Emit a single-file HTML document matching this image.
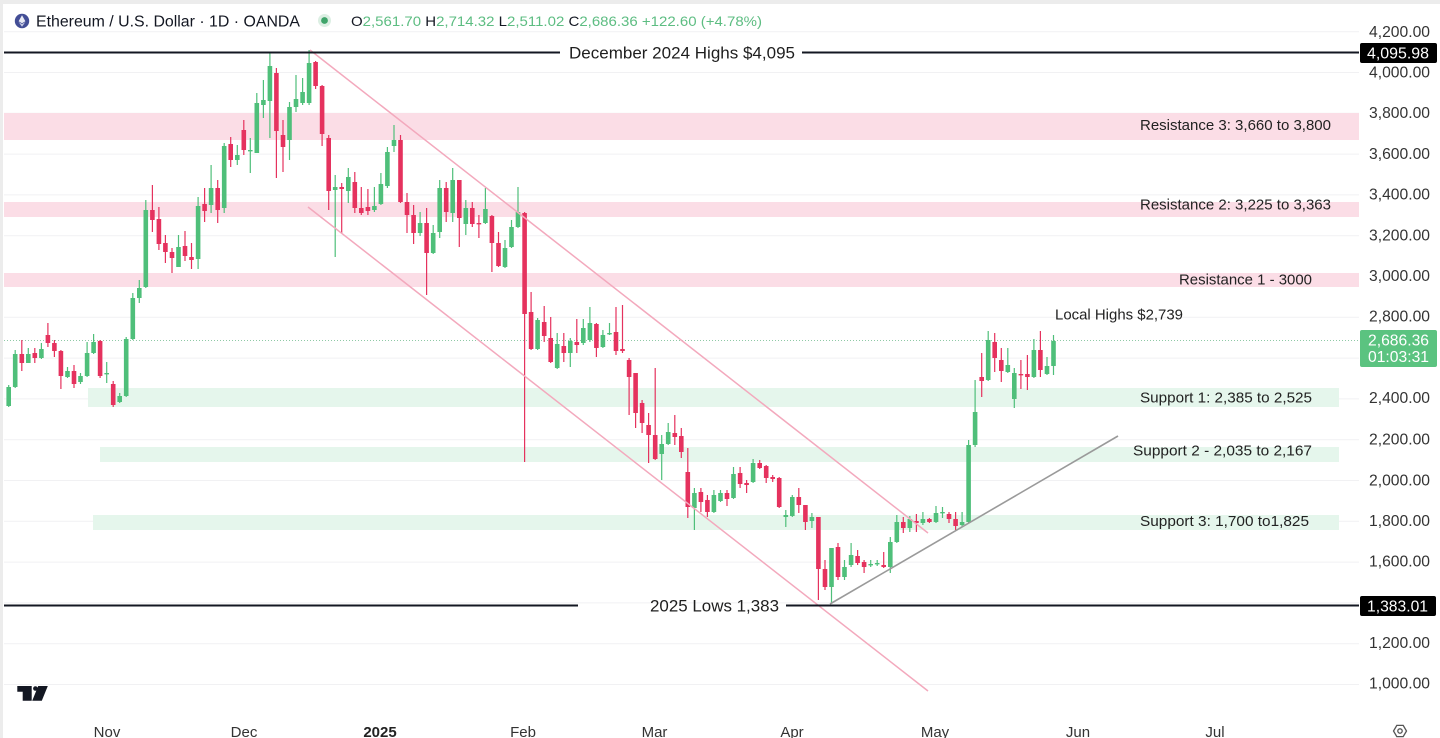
<!DOCTYPE html>
<html>
<head>
<meta charset="utf-8">
<style>
html,body{margin:0;padding:0;background:#fff;}
svg{display:block;}
</style>
</head>
<body>
<svg width="1440" height="738" viewBox="0 0 1440 738" xmlns="http://www.w3.org/2000/svg" font-family="'Liberation Sans', Arial, sans-serif">
<rect width="1440" height="738" fill="#ffffff"/>
<rect x="0" y="0" width="1440" height="4" fill="#ececec"/>
<rect x="0" y="0" width="3" height="738" fill="#ececec"/>

<!-- grid -->
<path d="M4 31.7H1359M4 72.5H1359M4 113.3H1359M4 154.1H1359M4 194.9H1359M4 235.7H1359M4 276.5H1359M4 317.3H1359M4 358.1H1359M4 398.9H1359M4 439.7H1359M4 480.5H1359M4 521.3H1359M4 562.1H1359M4 602.9H1359M4 643.7H1359M4 684.5H1359" stroke="#f1f1f3" stroke-width="1" fill="none"/>

<!-- zones -->
<rect x="4" y="113" width="1355" height="27" fill="#fbdde6"/>
<rect x="4" y="202" width="1355" height="15" fill="#fbdde6"/>
<rect x="4" y="273" width="1355" height="14" fill="#fbdde6"/>
<rect x="88" y="388" width="1251" height="19" fill="#e5f6ec"/>
<rect x="100" y="447" width="1239" height="15" fill="#e5f6ec"/>
<rect x="93" y="515" width="1246" height="15" fill="#e5f6ec"/>

<!-- current price dotted line -->
<path d="M4 340.5H1359" stroke="#8fc9a6" stroke-width="1" stroke-dasharray="1 2" fill="none"/>

<!-- green wicks -->
<path fill="none" stroke="#4fbf7a" stroke-width="1.2" d="M8.7 385V407M15.2 350V388M28.3 348V363M41.4 343V359M67.5 367V378M80.5 373V384M87.1 342V377M93.6 334V354M106.7 362V383M119.7 393V403M126.2 337V397M132.8 293V340M139.3 280V303M145.8 200V288M178.5 235V267M198.1 197V269M211.1 165V213M224.2 143V213M237.3 145V165M250.3 138V173M256.8 93V153M263.4 80V118M269.9 53V138M289.5 102V160M296 75V112M302.6 78V105M309.1 50V105M335.2 175V257M348.3 168V203M374.4 187V212M380.9 173V205M387.4 147V188M394 125V152M420.1 212V236M433.2 225V254M439.7 180V238M452.7 168V222M465.8 200V235M485.4 188V224M505 240V268M511.5 220V248M518 187V228M537.6 318V350M557.2 333V369M570.3 338V367M583.3 319V345M589.9 307V342M602.9 330V348M609.5 323V335M661.7 435V480M668.2 423V445M694.4 488V530M713.9 490V513M720.5 490V502M733.5 467V499M753.1 459V483M785.8 510V527M792.3 495V517M811.9 513V528M831.5 548V604M844.5 560V580M851.1 543V567M870.7 560V567M877.2 560V566M890.3 537V573M896.8 515V543M909.8 516V532M922.9 512V525M936 506V523M942.5 507V518M962.1 512V527M968.6 440V523M975.1 380V447M988.2 331V381M1007.8 348V373M1014.3 368V408M1033.9 339V378M1047 357V375M1053.5 335V375"/>
<!-- green bodies -->
<path fill="#4fbf7a" d="M6.4 387h4.6v19h-4.6zM12.9 354h4.6v33h-4.6zM26 354h4.6v9h-4.6zM39.1 349h4.6v9h-4.6zM65.2 371h4.6v6h-4.6zM78.2 376h4.6v6h-4.6zM84.8 353h4.6v23h-4.6zM91.3 342h4.6v11h-4.6zM104.4 373h4.6v1.4h-4.6zM117.4 396h4.6v6h-4.6zM123.9 339h4.6v57h-4.6zM130.5 298h4.6v41h-4.6zM137 288h4.6v10h-4.6zM143.5 210h4.6v77h-4.6zM176.2 247h4.6v20h-4.6zM195.8 206h4.6v53h-4.6zM208.8 188h4.6v17h-4.6zM221.9 146h4.6v62h-4.6zM235 155h4.6v5h-4.6zM248 150h4.6v1.4h-4.6zM254.5 103h4.6v50h-4.6zM261.1 100h4.6v5h-4.6zM267.6 66h4.6v35h-4.6zM287.2 107h4.6v33h-4.6zM293.7 99h4.6v8h-4.6zM300.3 92h4.6v11h-4.6zM306.8 63h4.6v40h-4.6zM332.9 187h4.6v3h-4.6zM346 177h4.6v14h-4.6zM372.1 206h4.6v4h-4.6zM378.6 184h4.6v20h-4.6zM385.1 152h4.6v34h-4.6zM391.7 140h4.6v6h-4.6zM417.8 223h4.6v10h-4.6zM430.9 233h4.6v20h-4.6zM437.4 188h4.6v44h-4.6zM450.4 180h4.6v33h-4.6zM463.5 208h4.6v16h-4.6zM483.1 209h4.6v14h-4.6zM502.7 248h4.6v19h-4.6zM509.2 227h4.6v20h-4.6zM515.7 212h4.6v15h-4.6zM535.3 320h4.6v29h-4.6zM554.9 344h4.6v24h-4.6zM568 341h4.6v12h-4.6zM581 328h4.6v15h-4.6zM587.6 323h4.6v17h-4.6zM600.6 335h4.6v12h-4.6zM607.2 333h4.6v1.4h-4.6zM659.4 444h4.6v10h-4.6zM665.9 432h4.6v12h-4.6zM692.1 493h4.6v15h-4.6zM711.6 495h4.6v17h-4.6zM718.2 493h4.6v8h-4.6zM731.2 474h4.6v24h-4.6zM750.8 463h4.6v19h-4.6zM783.5 515h4.6v2h-4.6zM790 497h4.6v19h-4.6zM809.6 517h4.6v4h-4.6zM829.2 548h4.6v39h-4.6zM842.2 567h4.6v10h-4.6zM848.8 555h4.6v10h-4.6zM868.4 564h4.6v1.4h-4.6zM874.9 563h4.6v1.4h-4.6zM888 542h4.6v25h-4.6zM894.5 522h4.6v20h-4.6zM907.5 519h4.6v9h-4.6zM920.6 519h4.6v4h-4.6zM933.7 513h4.6v9h-4.6zM940.2 512h4.6v1.4h-4.6zM959.8 522h4.6v3h-4.6zM966.3 445h4.6v77h-4.6zM972.8 412h4.6v33h-4.6zM985.9 340h4.6v40h-4.6zM1005.5 365h4.6v7h-4.6zM1012 373h4.6v26h-4.6zM1031.6 350h4.6v27h-4.6zM1044.7 366h4.6v8h-4.6zM1051.2 341h4.6v25h-4.6z"/>

<!-- red wicks -->
<path fill="none" stroke="#e5325e" stroke-width="1.2" d="M21.8 340V371M34.8 348V363M47.9 323V347M54.4 340V357M60.9 350V389M74 365V388M100.1 340V378M113.2 381V407M152.4 185V232M158.9 207V250M165.4 235V263M172 248V273M185 231V261M191.5 243V269M204.6 188V222M217.7 180V223M230.7 137V167M243.8 120V155M276.4 68V178M283 120V172M315.6 61V89M322.1 85V146M328.7 135V210M341.7 183V233M354.8 172V213M361.3 187V215M367.9 189V215M400.5 135V203M407 193V233M413.6 205V244M426.6 208V295M446.2 182V222M459.3 180V247M472.3 202V227M478.9 215V238M491.9 215V272M498.5 232V267M524.6 212V462M531.1 292V350M544.2 306V342M550.7 317V363M563.8 333V362M576.8 319V353M596.4 323V357M616 307V355M622.5 305V353M629.1 358V415M635.6 373V428M642.1 400V433M648.6 413V463M655.2 368V460M674.8 415V445M681.3 428V458M687.8 448V518M700.9 488V512M707.4 495V517M727 490V506M740.1 467V488M746.6 480V493M759.7 460V469M766.2 465V483M772.7 475V482M779.2 477V508M798.8 488V513M805.4 505V530M818.4 517V600M825 560V590M838 543V580M857.6 550V565M864.1 560V573M883.7 552V568M903.3 517V533M916.4 514V532M929.4 518V523M949 512V523M955.6 512V530M981.7 353V397M994.7 333V372M1001.3 348V382M1020.9 360V389M1027.4 355V390M1040.4 331V377"/>
<!-- red bodies -->
<path fill="#e5325e" d="M19.5 354h4.6v9h-4.6zM32.5 353h4.6v5h-4.6zM45.6 335h4.6v8h-4.6zM52.1 343h4.6v8h-4.6zM58.6 351h4.6v25h-4.6zM71.7 371h4.6v13h-4.6zM97.8 341h4.6v35h-4.6zM110.9 384h4.6v21h-4.6zM150.1 210h4.6v10h-4.6zM156.6 219h4.6v25h-4.6zM163.1 243h4.6v9h-4.6zM169.7 252h4.6v6h-4.6zM182.7 246h4.6v10h-4.6zM189.2 257h4.6v3h-4.6zM202.3 204h4.6v7h-4.6zM215.4 188h4.6v22h-4.6zM228.4 144h4.6v16h-4.6zM241.5 130h4.6v20h-4.6zM274.1 73h4.6v58h-4.6zM280.7 135h4.6v12h-4.6zM313.3 62h4.6v24h-4.6zM319.8 86h4.6v48h-4.6zM326.4 138h4.6v53h-4.6zM339.4 187h4.6v2h-4.6zM352.5 182h4.6v26h-4.6zM359 208h4.6v5h-4.6zM365.6 207h4.6v4h-4.6zM398.2 140h4.6v62h-4.6zM404.7 202h4.6v13h-4.6zM411.3 215h4.6v18h-4.6zM424.3 223h4.6v30h-4.6zM443.9 188h4.6v24h-4.6zM457 180h4.6v38h-4.6zM470 208h4.6v16h-4.6zM476.6 223h4.6v1.4h-4.6zM489.6 216h4.6v27h-4.6zM496.2 243h4.6v23h-4.6zM522.3 213h4.6v101h-4.6zM528.8 312h4.6v37h-4.6zM541.9 322h4.6v14h-4.6zM548.4 338h4.6v24h-4.6zM561.5 346h4.6v7h-4.6zM574.5 342h4.6v3h-4.6zM594.1 324h4.6v24h-4.6zM613.7 332h4.6v19h-4.6zM620.2 349h4.6v2h-4.6zM626.8 360h4.6v17h-4.6zM633.3 373h4.6v40h-4.6zM639.8 403h4.6v20h-4.6zM646.3 425h4.6v10h-4.6zM652.9 435h4.6v24h-4.6zM672.5 433h4.6v4h-4.6zM679 436h4.6v16h-4.6zM685.5 472h4.6v35h-4.6zM698.6 492h4.6v10h-4.6zM705.1 500h4.6v12h-4.6zM724.7 493h4.6v6h-4.6zM737.8 473h4.6v11h-4.6zM744.3 483h4.6v2h-4.6zM757.4 463h4.6v5h-4.6zM763.9 466h4.6v12h-4.6zM770.4 477h4.6v2h-4.6zM776.9 478h4.6v29h-4.6zM796.5 497h4.6v8h-4.6zM803.1 505h4.6v17h-4.6zM816.1 517h4.6v52h-4.6zM822.7 569h4.6v18h-4.6zM835.7 547h4.6v30h-4.6zM855.3 556h4.6v7h-4.6zM861.8 562h4.6v5h-4.6zM881.4 565h4.6v2h-4.6zM901 522h4.6v6h-4.6zM914.1 521h4.6v2h-4.6zM927.1 519h4.6v3h-4.6zM946.7 514h4.6v5h-4.6zM953.3 519h4.6v7h-4.6zM979.4 377h4.6v4h-4.6zM992.4 342h4.6v16h-4.6zM999 360h4.6v11h-4.6zM1018.6 374h4.6v1.4h-4.6zM1025.1 374h4.6v3h-4.6zM1038.1 350h4.6v20h-4.6z"/>

<!-- channel lines -->
<path d="M310 50L928 533M308 207L928 691" stroke="#f3a9bd" stroke-width="1.5" fill="none"/>
<path d="M830 604L1118 436" stroke="#9a9a9a" stroke-width="1.6" fill="none"/>

<!-- horizontal level lines -->
<path d="M4 52.5H560M802 52.5H1359M4 605.5H578M786 605.5H1359" stroke="#131722" stroke-width="2" fill="none"/>

<!-- annotations -->
<g fill="#1e1e1e" font-size="17">
<text x="569" y="58.5" textLength="226" lengthAdjust="spacingAndGlyphs">December 2024 Highs $4,095</text>
<text x="650" y="611.5" textLength="129" lengthAdjust="spacingAndGlyphs">2025 Lows 1,383</text>
</g>
<g fill="#222" font-size="15">
<text x="1140" y="130" textLength="191" lengthAdjust="spacingAndGlyphs">Resistance 3: 3,660 to 3,800</text>
<text x="1140" y="209.5" textLength="191" lengthAdjust="spacingAndGlyphs">Resistance 2: 3,225 to 3,363</text>
<text x="1179" y="284.5" textLength="133" lengthAdjust="spacingAndGlyphs">Resistance 1 - 3000</text>
<text x="1055" y="319.5" textLength="128" lengthAdjust="spacingAndGlyphs">Local Highs $2,739</text>
<text x="1140" y="402.5" textLength="172" lengthAdjust="spacingAndGlyphs">Support 1: 2,385 to 2,525</text>
<text x="1133" y="455.5" textLength="179" lengthAdjust="spacingAndGlyphs">Support 2 - 2,035 to 2,167</text>
<text x="1140" y="526" textLength="169" lengthAdjust="spacingAndGlyphs">Support 3: 1,700 to1,825</text>
</g>

<!-- price axis -->
<g fill="#333" font-size="15.5">
<text x="1369" y="37" textLength="61" lengthAdjust="spacingAndGlyphs">4,200.00</text>
<text x="1369" y="77.5" textLength="61" lengthAdjust="spacingAndGlyphs">4,000.00</text>
<text x="1369" y="118" textLength="61" lengthAdjust="spacingAndGlyphs">3,800.00</text>
<text x="1369" y="159" textLength="61" lengthAdjust="spacingAndGlyphs">3,600.00</text>
<text x="1369" y="199.5" textLength="61" lengthAdjust="spacingAndGlyphs">3,400.00</text>
<text x="1369" y="240.5" textLength="61" lengthAdjust="spacingAndGlyphs">3,200.00</text>
<text x="1369" y="281" textLength="61" lengthAdjust="spacingAndGlyphs">3,000.00</text>
<text x="1369" y="321.5" textLength="61" lengthAdjust="spacingAndGlyphs">2,800.00</text>
<text x="1369" y="403" textLength="61" lengthAdjust="spacingAndGlyphs">2,400.00</text>
<text x="1369" y="444.5" textLength="61" lengthAdjust="spacingAndGlyphs">2,200.00</text>
<text x="1369" y="485.5" textLength="61" lengthAdjust="spacingAndGlyphs">2,000.00</text>
<text x="1369" y="526" textLength="61" lengthAdjust="spacingAndGlyphs">1,800.00</text>
<text x="1369" y="566.5" textLength="61" lengthAdjust="spacingAndGlyphs">1,600.00</text>
<text x="1369" y="648" textLength="61" lengthAdjust="spacingAndGlyphs">1,200.00</text>
<text x="1369" y="688.5" textLength="61" lengthAdjust="spacingAndGlyphs">1,000.00</text>
</g>

<!-- price tags -->
<rect x="1360" y="43" width="77" height="20" rx="2" fill="#000"/>
<text x="1367" y="58.5" fill="#fff" font-size="15.5" textLength="62" lengthAdjust="spacingAndGlyphs">4,095.98</text>
<rect x="1360" y="596" width="76" height="20" rx="2" fill="#000"/>
<text x="1367" y="611.5" fill="#fff" font-size="15.5" textLength="61" lengthAdjust="spacingAndGlyphs">1,383.01</text>
<rect x="1360" y="330" width="77" height="37" rx="2" fill="#5bc380"/>
<text x="1368" y="345.5" fill="#fff" font-size="15.5" textLength="61" lengthAdjust="spacingAndGlyphs">2,686.36</text>
<text x="1368" y="362" fill="#fff" font-size="15.5" textLength="61" lengthAdjust="spacingAndGlyphs">01:03:31</text>

<!-- time axis -->
<g fill="#333" font-size="15" text-anchor="middle">
<text x="107" y="737">Nov</text>
<text x="244" y="737">Dec</text>
<text x="380" y="737" font-weight="bold" fill="#222">2025</text>
<text x="523" y="737">Feb</text>
<text x="654.5" y="737">Mar</text>
<text x="792" y="737">Apr</text>
<text x="935" y="737">May</text>
<text x="1078" y="737">Jun</text>
<text x="1215" y="737">Jul</text>
</g>
<!-- settings icon -->
<g fill="none" stroke="#555" stroke-width="1.3">
<polygon points="1406.5,731 1403.2,736.6 1396.8,736.6 1393.5,731 1396.8,725.4 1403.2,725.4"/>
<circle cx="1400" cy="731" r="2.2"/>
</g>

<!-- TradingView logo -->
<g fill="#131722">
<path d="M17.3 686H31.7V700.7H22.7V691.7H17.3Z"/>
<circle cx="35.4" cy="688.5" r="2.3"/>
<path d="M38.2 686H47.8L41.8 700.7H32.2Z"/>
</g>

<!-- header -->
<circle cx="22" cy="21" r="7.2" fill="#434e96"/>
<path d="M22 15.3L25.4 21.2L22 23.2L18.6 21.2Z" fill="#e8eaf4"/>
<path d="M22 24.1L25.4 22L22 26.8L18.6 22Z" fill="#c9cde6"/>
<text x="36" y="26.5" fill="#131722" font-size="15.5" textLength="264" lengthAdjust="spacingAndGlyphs">Ethereum / U.S. Dollar · 1D · OANDA</text>
<circle cx="324.5" cy="20.5" r="6.5" fill="#dcefe3"/>
<circle cx="324.5" cy="20.5" r="3.4" fill="#3fa46a"/>
<text x="351" y="26" font-size="14" textLength="411" lengthAdjust="spacingAndGlyphs"><tspan fill="#131722">O</tspan><tspan fill="#5dbd82">2,561.70 </tspan><tspan fill="#131722">H</tspan><tspan fill="#5dbd82">2,714.32 </tspan><tspan fill="#131722">L</tspan><tspan fill="#5dbd82">2,511.02 </tspan><tspan fill="#131722">C</tspan><tspan fill="#5dbd82">2,686.36 +122.60 (+4.78%)</tspan></text>
</svg>
</body>
</html>
